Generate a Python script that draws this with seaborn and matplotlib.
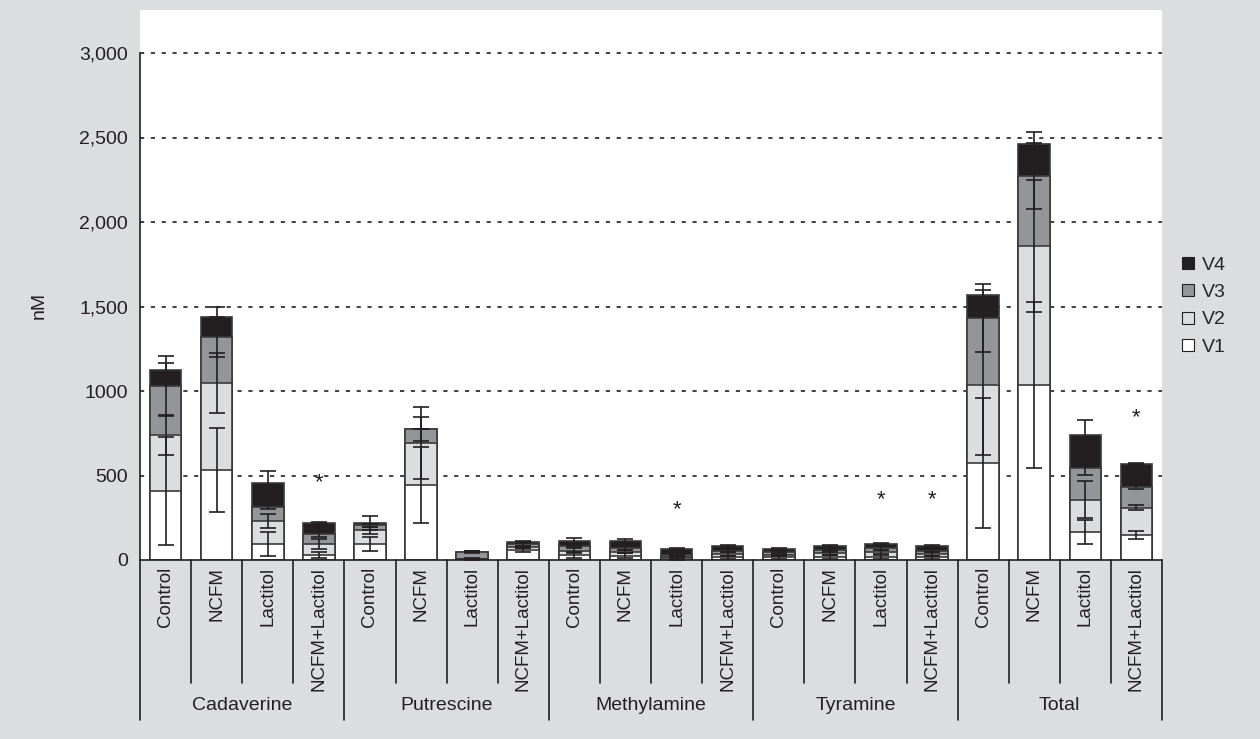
import numpy as np
import pandas as pd
import matplotlib
matplotlib.use("Agg")
import matplotlib.pyplot as plt
import matplotlib.transforms as mtransforms
from matplotlib.lines import Line2D
import seaborn as sns

groups = ["Cadaverine", "Putrescine", "Methylamine", "Tyramine", "Total"]
treatments = ["Control", "NCFM", "Lactitol", "NCFM+Lactitol"]

v1 = [410, 533, 95, 30, 95, 444, 3, 59, 30, 25, 10, 15, 15, 20, 20, 15, 574, 1036, 166, 148]
v2 = [330, 514, 136, 65, 80, 248, 5, 18, 25, 25, 10, 20, 15, 20, 25, 20, 462, 822, 190, 160]
v3 = [290, 273, 83, 59, 30, 83, 40, 18, 30, 20, 10, 20, 15, 20, 25, 20, 396, 414, 190, 124]
v4 = [94, 118, 141, 65, 14, 0, 2, 11, 25, 45, 35, 25, 20, 25, 25, 25, 136, 190, 194, 136]

sd1 = [320, 250, 70, 18, 42, 225, 3, 10, 20, 15, 8, 10, 10, 12, 12, 10, 385, 492, 70, 25]
sd2 = [118, 175, 40, 30, 20, 213, 4, 8, 15, 10, 6, 10, 8, 10, 12, 10, 415, 391, 110, 15]
sd3 = [175, 120, 12, 15, 8, 70, 8, 10, 10, 10, 6, 8, 6, 8, 10, 8, 200, 195, 42, 12]
sd4 = [40, 60, 72, 6, 41, 0, 5, 6, 20, 8, 5, 6, 5, 6, 8, 6, 30, 71, 88, 6]

star_bars = [3, 10, 14, 15, 19]
star_vals = [460, 300, 355, 355, 840]

series = ["V1", "V2", "V3", "V4"]
colors = {"V1": "#ffffff", "V2": "#dcdddf", "V3": "#939598", "V4": "#231f20"}
ytick_vals = [0, 500, 1000, 1500, 2000, 2500, 3000]
ytick_labels = ["0", "500", "1000", "1,500", "2,000", "2,500", "3,000"]

sns.set_style("white")
plt.rcParams["font.family"] = ["Liberation Sans", "DejaVu Sans"]

bg = "#dcdddf"
edge = "#231f20"
fs = 14

keys = [f"{g}|{t}" for g in groups for t in treatments]
segs = np.array([v1, v2, v3, v4], dtype=float)
sds = np.array([sd1, sd2, sd3, sd4], dtype=float)
cum = np.cumsum(segs, axis=0)

fig = plt.figure(figsize=(12.6, 7.39), dpi=100, facecolor=bg)
top_px, bot_px, left_px, right_px = 10, 560, 140, 1162
W, H = 1260, 739
ax = fig.add_axes([left_px / W, (H - bot_px) / H, (right_px - left_px) / W, (bot_px - top_px) / H])
ax.set_facecolor("white")

for i in range(3, -1, -1):
    df = pd.DataFrame({"key": keys, "val": cum[i]})
    sns.barplot(data=df, x="key", y="val", order=keys, color=colors[series[i]],
                saturation=1, edgecolor="#3a3a3a", linewidth=1.2, width=0.62,
                errorbar=None, ax=ax, zorder=2)

xs = np.arange(len(keys))
for i in range(4):
    ax.errorbar(xs, cum[i], yerr=sds[i], fmt="none", ecolor=edge,
                elinewidth=1.2, capsize=5.5, capthick=1.2, zorder=4)

for b, v in zip(star_bars, star_vals):
    ax.text(b, v, "*", ha="center", va="center", fontsize=16, color=edge)

ymax = 3000 * (bot_px - top_px) / (bot_px - 53)
ax.set_ylim(0, ymax)
ax.set_xlim(-0.5, len(keys) - 0.5)
ax.set_yticks(ytick_vals)
ax.set_yticklabels(ytick_labels, fontsize=fs, color=edge)
for y in ytick_vals[1:]:
    ax.axhline(y, color=edge, linestyle=(0, (2.5, 4)), linewidth=1.2, zorder=1)
ax.tick_params(axis="y", direction="inout", length=7, width=1, color=edge, pad=5)
ax.set_xticks([])
ax.set_xlabel("")
ax.set_ylabel("nM", fontsize=fs, color=edge)
ax.yaxis.set_label_coords((48 - left_px) / (right_px - left_px), (bot_px - 305) / (bot_px - top_px))
for s in ["top", "right"]:
    ax.spines[s].set_visible(False)
ax.spines["left"].set_bounds(0, 3000)
for s in ["left", "bottom"]:
    ax.spines[s].set_color(edge)
    ax.spines[s].set_linewidth(1.2)

trans = mtransforms.blended_transform_factory(ax.transData, fig.transFigure)
y_base = (H - bot_px) / H
y_slot = (H - 683) / H
y_group = (H - 720) / H
for k in range(len(keys) + 1):
    xx = k - 0.5
    yend = y_group if k % 4 == 0 else y_slot
    ax.add_line(Line2D([xx, xx], [y_base, yend], transform=trans, color=edge,
                       linewidth=1.2, clip_on=False))
for k, key in enumerate(keys):
    ax.text(k, (H - 567) / H, key.split("|")[1], transform=trans, rotation=90,
            ha="center", va="top", fontsize=13.5, color=edge)
for g, name in enumerate(groups):
    ax.text(g * 4 + 1.5, (H - 705) / H, name, transform=trans, ha="center",
            va="center", fontsize=fs, color=edge)

handles = [Line2D([], [], marker="s", linestyle="none", markersize=8,
                  markerfacecolor=colors[s], markeredgecolor=edge, markeredgewidth=0.8)
           for s in series[::-1]]
leg = fig.legend(handles, series[::-1], loc="center left",
                 bbox_to_anchor=(1163 / W, (H - 306) / H), frameon=False,
                 fontsize=fs, handlelength=0.8, handletextpad=0.3, labelspacing=0.5)

fig.savefig("out.png", dpi=100, facecolor=bg)
